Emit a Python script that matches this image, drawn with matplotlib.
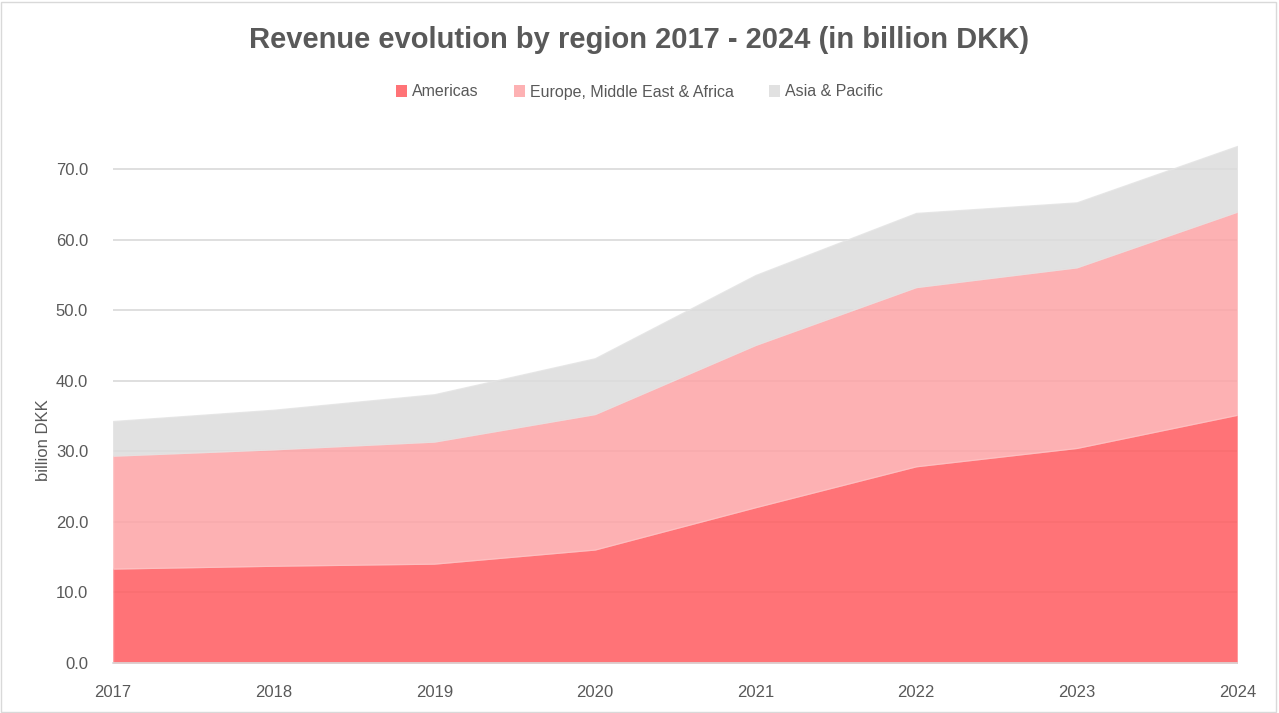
import matplotlib
matplotlib.use('Agg')
import matplotlib.pyplot as plt
from matplotlib.patches import Rectangle, Patch

# revenue by region, billion DKK
years = [2017, 2018, 2019, 2020, 2021, 2022, 2023, 2024]
americas = [13.4, 13.8, 14.1, 16.1, 22.1, 27.9, 30.5, 35.2]
emea = [16.0, 16.5, 17.3, 19.2, 23.0, 25.4, 25.6, 28.8]
apac = [4.9, 5.6, 6.7, 7.9, 9.9, 10.5, 9.2, 9.3]
labels = ['Americas', 'Europe, Middle East & Africa', 'Asia & Pacific']

# drawn with alpha so gridlines show faintly through the areas
colors = ['#FF5B5F', '#FDA4A6', '#DCDCDC']
edges = ['#FF9FA1', '#FDC4C5', '#E4E4E4']
grey = '#595959'

plt.rcParams['font.family'] = ['Liberation Sans', 'DejaVu Sans']

fig = plt.figure(figsize=(12.79, 7.13), dpi=100)
fig.patches.append(Rectangle((0.001, 0.002), 0.997, 0.995, transform=fig.transFigure,
                             fill=False, edgecolor='#D9D9D9', linewidth=1))

ax = fig.add_axes([0.0884, 0.0701, 0.879, 0.742])
polys = ax.stackplot(years, americas, emea, apac, colors=colors, alpha=0.85,
                     linewidth=1.0, zorder=2)
for p, ec in zip(polys, edges):
    p.set_edgecolor(ec)

ax.set_xlim(years[0], years[-1])
ax.set_ylim(0, 75)
ax.set_yticks(range(0, 80, 10))
ax.set_yticklabels([f'{v:.1f}' for v in range(0, 80, 10)])
ax.set_xticks(years)
ax.yaxis.grid(True, color='#D9D9D9', linewidth=1.2, zorder=1)
ax.set_axisbelow(True)
for s in ['top', 'right', 'left']:
    ax.spines[s].set_visible(False)
ax.spines['bottom'].set_color('#D9D9D9')
ax.spines['bottom'].set_linewidth(1.2)
ax.spines['bottom'].set_zorder(3)
ax.tick_params(axis='both', length=0, labelsize=12, labelcolor=grey)
ax.tick_params(axis='y', pad=18)
ax.tick_params(axis='x', pad=16)

fig.text(0.034, 1 - 440 / 713, 'billion DKK', rotation=90, ha='center', va='center',
         fontsize=12, color=grey)

fig.text(0.5, 1 - 40 / 713, 'Revenue evolution by region 2017 - 2024 (in billion DKK)',
         ha='center', va='center', fontsize=21, fontweight='bold', color=grey,
         family=['Liberation Sans Narrow', 'Liberation Sans', 'DejaVu Sans'])

handles = [Patch(facecolor=c, alpha=0.85, edgecolor='none') for c in colors]
fig.legend(handles, labels, loc='center', bbox_to_anchor=(0.5, 1 - 92 / 713), ncol=3,
           frameon=False, fontsize=11.5, labelcolor=grey, handlelength=0.7,
           handleheight=0.7, handletextpad=0.3, columnspacing=2.2)

plt.savefig('out.png', dpi=100)
